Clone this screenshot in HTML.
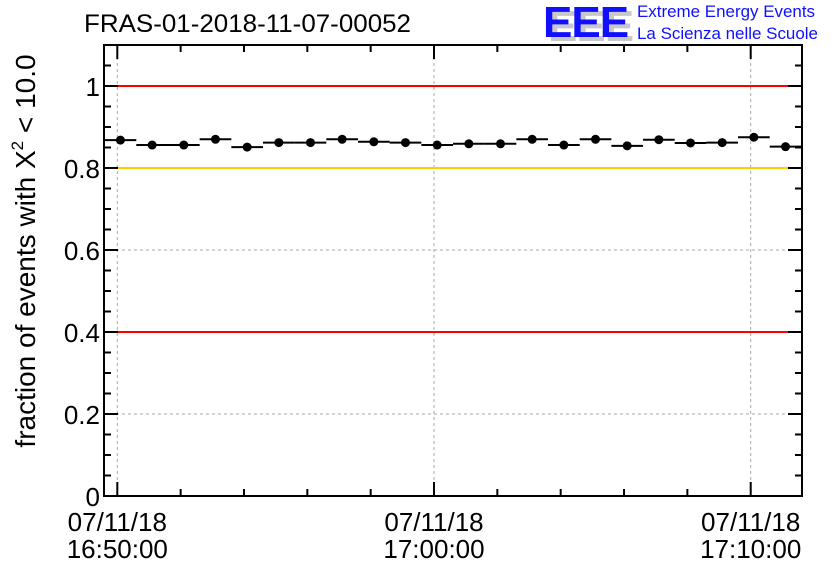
<!DOCTYPE html>
<html><head><meta charset="utf-8"><style>
body{margin:0;background:#fff;}
svg text{font-family:"Liberation Sans",sans-serif;}
</style></head><body>
<svg id="chart" width="836" height="572" xmlns="http://www.w3.org/2000/svg">
<rect width="836" height="572" fill="#fff"/>
<text x="84" y="32" font-size="25" fill="#000" textLength="327" lengthAdjust="spacingAndGlyphs">FRAS-01-2018-11-07-00052</text>
<g>
<text x="548" y="41" font-size="44" font-weight="bold" fill="#c8c8c8" letter-spacing="-1">EEE</text>
<text x="543" y="37" font-size="44" font-weight="bold" fill="#1010ff" letter-spacing="-1">EEE</text>
<text x="637" y="17" font-size="17" fill="#1010ff" textLength="178" lengthAdjust="spacingAndGlyphs">Extreme Energy Events</text>
<text x="637" y="39" font-size="17" fill="#1010ff" textLength="181" lengthAdjust="spacingAndGlyphs">La Scienza nelle Scuole</text>
</g>
<text transform="translate(35,251) rotate(-90)" text-anchor="middle" font-size="28" fill="#000">fraction of events with X<tspan dy="-12" font-size="17">2</tspan><tspan dy="12"> &lt; 10.0</tspan></text>
<g id="grid"></g><g id="refs"></g><g id="marks"></g><g id="axes"></g>
</svg>
<script>
const minutes = [0,1,2,3,4,5,6,7,8,9,10,11,12,13,14,15,16,17,18,19,20,21];
const fractions = [0.868,0.856,0.856,0.870,0.851,0.862,0.862,0.870,0.864,0.862,0.856,0.859,0.859,0.870,0.856,0.870,0.854,0.869,0.861,0.862,0.875,0.852];
const refLevels = [1.0,0.8,0.4];
const refColors = ['#ff0000','#ffcc00','#ff0000'];
const yTickLabels = ['0','0.2','0.4','0.6','0.8','1'];
const xTickLabels = [['07/11/18','16:50:00'],['07/11/18','17:00:00'],['07/11/18','17:10:00']];
const NS='http://www.w3.org/2000/svg';
const L=104,R=802,T=45,B=496;
const xs=t=>117.3+t*31.67;
const ys=v=>B-v*(B-T)/1.1;
function mk(tag,attrs,parent){const e=document.createElementNS(NS,tag);for(const k in attrs)e.setAttribute(k,attrs[k]);document.getElementById(parent).appendChild(e);return e;}
for(let i=0;i<3;i++){const g=mk('line',{x1:xs(i*10),x2:xs(i*10),y1:T,y2:B,stroke:'#aaa','stroke-dasharray':'3,3'},'grid');

}
for(let i=1;i<6;i++){const g=mk('line',{x1:L,x2:R,y1:ys(i*0.2),y2:ys(i*0.2),stroke:'#aaa','stroke-dasharray':'3,3'},'grid');

}
refLevels.forEach((v,i)=>{const l=mk('line',{x1:L,x2:R,y1:ys(v),y2:ys(v),stroke:refColors[i],'stroke-width':2},'refs');

});
minutes.forEach((m,i)=>{const t=m+0.1,y=ys(fractions[i]);
const x1=Math.max(L,xs(t-0.5)),x2=Math.min(R,xs(t+0.5));
const h=mk('line',{x1:x1,x2:x2,y1:y,y2:y,stroke:'#000','stroke-width':2},'marks');


const c=mk('circle',{cx:xs(t),cy:y,r:4.5,fill:'#000'},'marks');

});
const f=mk('rect',{x:L,y:T,width:R-L,height:B-T,fill:'none',stroke:'#000','stroke-width':2},'axes');


for(let k=0;k<=22;k++){const y=ys(k*0.05),len=(k%4==0)?14:7;
mk('line',{x1:L,x2:L+len,y1:y,y2:y,stroke:'#000','stroke-width':2},'axes');
mk('line',{x1:R,x2:R-len,y1:y,y2:y,stroke:'#000','stroke-width':2},'axes');}
yTickLabels.forEach((s,i)=>{const t=mk('text',{x:100,y:ys(i*0.2)+10,'text-anchor':'end','font-size':26},'axes');t.textContent=s;

});
for(let m=0;m<=21;m+=2){const x=xs(m),len=(m%10==0)?14:7;
mk('line',{x1:x,x2:x,y1:B,y2:B-len,stroke:'#000','stroke-width':2},'axes');
mk('line',{x1:x,x2:x,y1:T,y2:T+len,stroke:'#000','stroke-width':2},'axes');}
xTickLabels.forEach((p,i)=>{const x=xs(i*10);
const a=mk('text',{x:x,y:531,'text-anchor':'middle','font-size':26},'axes');a.textContent=p[0];


const b=mk('text',{x:x,y:558,'text-anchor':'middle','font-size':26},'axes');b.textContent=p[1];

});
</script>
</body></html>
